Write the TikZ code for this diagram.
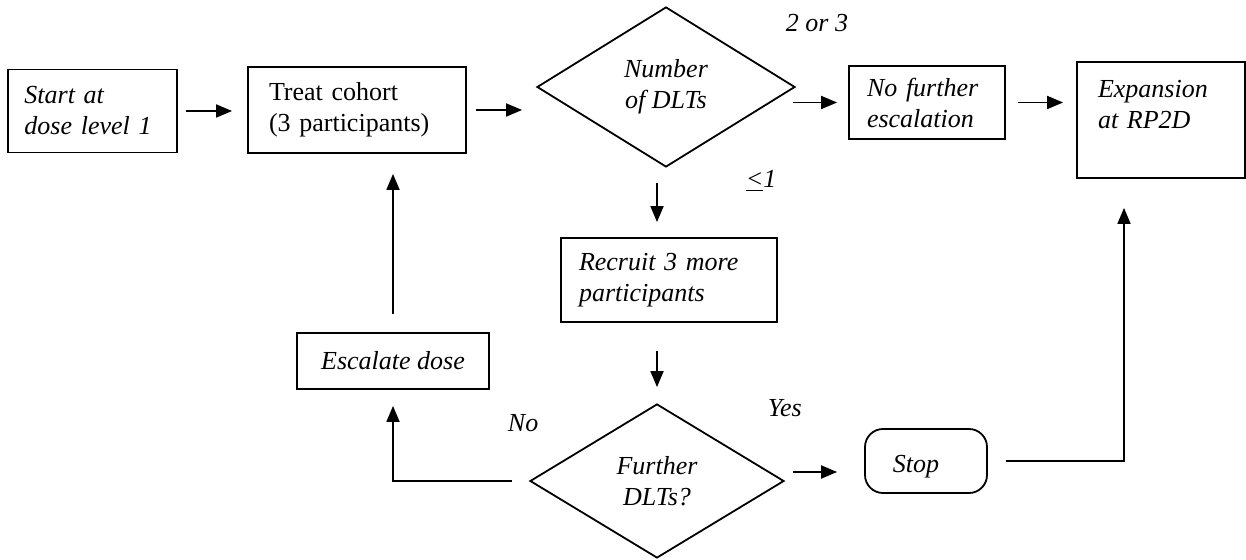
\documentclass[tikz,border=0pt]{standalone}
\usepackage{fontspec}
\setmainfont{Liberation Serif}
\usetikzlibrary{shapes,arrows.meta,positioning}

\begin{document}
\begin{tikzpicture}[x=0.5pt,y=-0.5pt,inner sep=0pt,line width=0.9pt,
  font=\fontsize{13}{15.5}\selectfont\itshape,
  box/.style={draw,rectangle,align=left},
  dec/.style={draw,diamond,align=center,minimum width=129pt,minimum height=80pt},
  arr/.style={-{Triangle[length=8pt,width=6.5pt]}},
  lbl/.style={anchor=base west}]

\useasboundingbox (0,0) rectangle (1246,560);

 \coordinate (bend) at (1124,461);

% top row
\node[box,text width=68pt,inner xsep=8.25pt,minimum height=41.5pt] (start) at (92.5,111) {Start at\\dose level 1};
\node[box,text width=88pt,inner xsep=10.5pt,minimum height=43pt,font=\fontsize{13}{15.5}\selectfont] (treat) at (357,110) {Treat cohort\\(3 participants)};
\node[dec] (dlt) at (666,87) {Number\\of DLTs};
\node[box,text width=60pt,inner xsep=9pt,minimum height=36.5pt] (nofurther) at (927,102.5) {No further\\escalation};
\node[box,text width=63pt,inner xsep=10.5pt,minimum height=58pt] (expansion) at (1161,120) {Expansion\\at RP2D\\\mbox{}};

% lower part
\node[box,text width=90pt,inner xsep=9pt,minimum height=42pt] (recruit) at (669,280) {Recruit 3 more\\participants};
\node[box,align=center,minimum width=96pt,minimum height=28pt] (escalate) at (393,361) {Escalate dose};
\node[dec,minimum width=127pt,minimum height=77pt] (further) at (657,481) {Further\\DLTs?};
\node[draw,rounded corners=9pt,minimum width=61pt,minimum height=32pt,text height=12pt,text depth=0pt] (stop) at (926,461) {Stop\hspace*{10pt}};

\node[lbl] (twothree) at (785,32) {2 or 3};
\node[lbl] (fewer) at (745,188) {\underline{<}1};
\node[lbl] (yes) at (767,417) {Yes};
\node[lbl] (no) at (507,432) {No};

\draw[arr,shorten <=4pt,shorten >=7.5pt] (start.east) -- (start.east -| treat.west);
\draw[arr,shorten <=4.5pt,shorten >=7pt] (treat.east) -- (treat.east -| dlt.west);
\draw[arr,shorten <=-1.5pt,shorten >=5.5pt] (dlt.east |- nofurther.west) -- (nofurther.west);
\draw[arr,shorten <=6pt,shorten >=6.5pt] (nofurther.east) -- (nofurther.east -| expansion.west);
\draw[arr,shorten <=7.5pt,shorten >=7.5pt] (dlt.south -| further) -- (recruit.north -| further);
\draw[arr,shorten <=14pt,shorten >=8pt] (recruit.south -| further) -- (further.north);
\draw[arr,shorten <=4pt,shorten >=13.5pt] ([yshift=4.5pt]further.east) -- ([yshift=-5.5pt]stop.west);
\draw[arr,shorten <=8.5pt,shorten >=8pt] (further.west) -| (escalate.south);
\draw[arr,shorten <=9pt,shorten >=10pt] (escalate.north) -- (escalate.north |- treat.south);
\draw[arr,shorten <=9pt,shorten >=14.5pt] (stop.east) -- (bend) -- (bend |- expansion.south);

\end{tikzpicture}
\end{document}
